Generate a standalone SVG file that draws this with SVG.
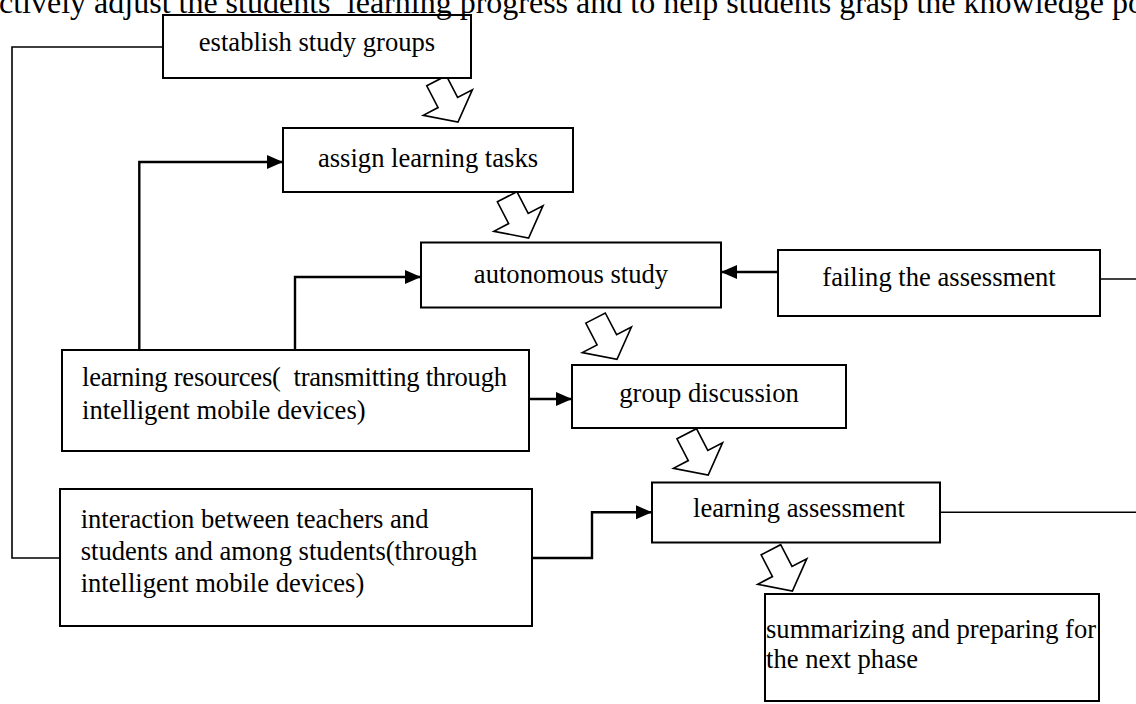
<svg xmlns="http://www.w3.org/2000/svg" xmlns:xlink="http://www.w3.org/1999/xlink" width="1136" height="704" viewBox="0 0 1136 704">
<style>
text{font-family:"Liberation Serif","Times New Roman",serif;font-size:26.6px;fill:#000;white-space:pre}
.hdr{font-size:32px}
.box{fill:#fff;stroke:#000;stroke-width:2}
.thin{fill:none;stroke:#000;stroke-width:1.6}
.arr{fill:none;stroke:#000;stroke-width:2.4;marker-end:url(#ah)}
.blk{fill:#fff;stroke:#000;stroke-width:1.6;stroke-linejoin:miter}
.c{text-anchor:middle}
</style>
<defs>
<marker id="ah" markerUnits="userSpaceOnUse" markerWidth="18" markerHeight="16" refX="16" refY="7" orient="auto">
<path d="M0,0 L16,7 L0,14 Z" fill="#000"/>
</marker>
<polygon id="blk" points="-11,-46.5 11,-46.5 11,-22 27.7,-22 0,0 -27.7,-22 -11,-22"/>
</defs>
<g id="connectors">
<path class="thin" d="M163,47 H12 V558 H60"/>
<path class="arr" d="M139.3,350 V162 H283"/>
<path class="arr" d="M295,350 V277 H421"/>
<path class="arr" d="M778,272 H721"/>
<path class="thin" d="M1100,279 H1136"/>
<path class="arr" d="M529,399 H572"/>
<path class="arr" d="M532,558 H592 V512.3 H652"/>
<path class="thin" d="M940,512.3 H1136"/>
<use xlink:href="#blk" class="blk" transform="translate(458,122) rotate(-27.5)"/>
<use xlink:href="#blk" class="blk" transform="translate(528.6,238) rotate(-27.5)"/>
<use xlink:href="#blk" class="blk" transform="translate(617,359.3) rotate(-27.5)"/>
<use xlink:href="#blk" class="blk" transform="translate(708.2,475) rotate(-27.5)"/>
<use xlink:href="#blk" class="blk" transform="translate(792.4,591) rotate(-27.5)"/>
</g>
<g id="establish"><rect class="box" x="163" y="15" width="308" height="63"/><text class="c" x="317" y="51">establish study groups</text></g>
<g id="assign"><rect class="box" x="283" y="128" width="290" height="64"/><text class="c" x="428" y="167">assign learning tasks</text></g>
<g id="autonomous"><rect class="box" x="421" y="242.5" width="300" height="65"/><text class="c" x="571" y="283">autonomous study</text></g>
<g id="failing"><rect class="box" x="778" y="250" width="322" height="66"/><text class="c" x="939" y="286">failing the assessment</text></g>
<g id="resources"><rect class="box" x="62" y="350" width="467" height="101"/><text x="82" y="386" textLength="425" lengthAdjust="spacing">learning resources(  transmitting through</text><text x="82" y="418.5">intelligent mobile devices)</text></g>
<g id="discussion"><rect class="box" x="572" y="365" width="274" height="63"/><text class="c" x="709" y="401.5">group discussion</text></g>
<g id="interaction"><rect class="box" x="60" y="489" width="472" height="137"/><text x="80.7" y="528">interaction between teachers and</text><text x="80.7" y="560">students and among students(through</text><text x="80.7" y="592">intelligent mobile devices)</text></g>
<g id="assessment"><rect class="box" x="652" y="482.5" width="288" height="60"/><text class="c" x="799" y="517">learning assessment</text></g>
<g id="summarizing"><rect class="box" x="765" y="594" width="334" height="107"/><text x="766" y="638.3">summarizing and preparing for</text><text x="766" y="668.3">the next phase</text></g>
<text class="hdr" x="-1" y="13">ctively adjust the students’ learning progress and to help students grasp the knowledge po</text>
</svg>
